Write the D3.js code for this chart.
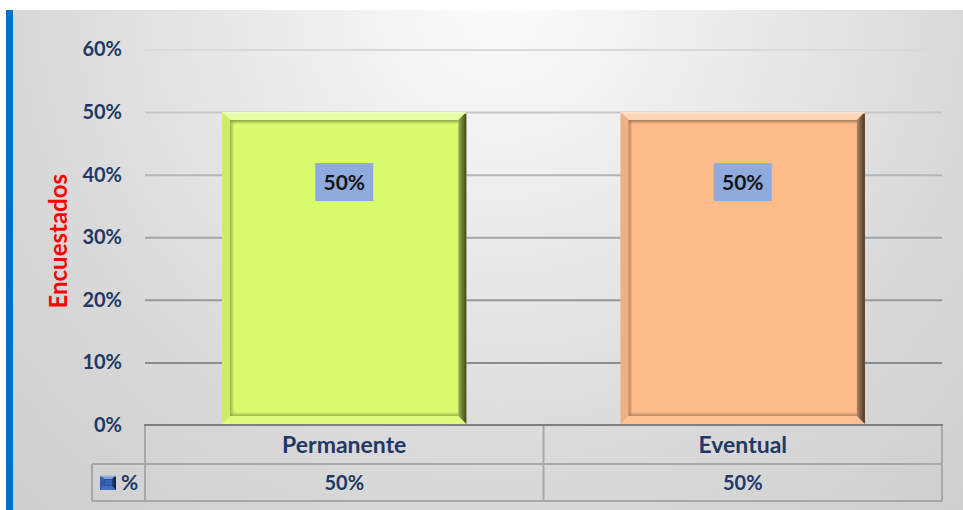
<!DOCTYPE html>
<html>
<head>
<meta charset="utf-8">
<script src="https://cdn.jsdelivr.net/npm/d3@7"></script>
<style>
  html, body { margin: 0; padding: 0; background: #ffffff; }
  svg { display: block; }
  text { font-family: Lato, "Open Sans", sans-serif; font-weight: 700; }
</style>
</head>
<body>
<svg id="chart" width="963" height="510"></svg>
<script>
// ---- data ----
const categories = ["Permanente", "Eventual"];
const values = [0.5, 0.5];
const barColors = ["#d8fc6e", "#fdbc8a"];
const seriesName = "%";
const tickValues = [0, 0.1, 0.2, 0.3, 0.4, 0.5, 0.6];
const axisTitle = "Encuestados";

// ---- layout ----
const W = 963, H = 510;
const plot = { left: 145, right: 942, top: 49.5, bottom: 425 };
const table = { legendLeft: 92, row1: 425, row2: 464, bottom: 501 };
const navy = "#1f3864";

const svg = d3.select("#chart");
const defs = svg.append("defs");

// soft radial background
const bg = defs.append("radialGradient").attr("id", "bg")
  .attr("gradientUnits", "userSpaceOnUse")
  .attr("cx", 500).attr("cy", 0).attr("r", 720);
bg.append("stop").attr("offset", 0).attr("stop-color", "#fcfcfc");
bg.append("stop").attr("offset", 0.66).attr("stop-color", "#d9d9d9");
bg.append("stop").attr("offset", 1).attr("stop-color", "#cdcdcd");

svg.append("rect").attr("x", 13).attr("y", 10).attr("width", W - 13).attr("height", H - 10)
  .attr("fill", "url(#bg)");
svg.append("rect").attr("x", 6).attr("y", 10).attr("width", 7).attr("height", H - 10)
  .attr("fill", "#0070c0");

// ---- scales ----
const y = d3.scaleLinear().domain([0, 0.6]).range([plot.bottom, plot.top]);
const x = d3.scaleBand().domain(categories).range([plot.left, plot.right]).padding(0);
const barFrac = 0.613;
// gridlines get darker towards the base of the plot
const gridColor = d3.scaleLinear().domain([0.1, 0.3, 0.6]).range(["#8c8c8c", "#a4a4a4", "#dadada"]);

// ---- y axis with gridlines ----
const yAxis = d3.axisLeft(y)
  .tickValues(tickValues)
  .tickFormat(d3.format(".0%"))
  .tickSize(-(plot.right - plot.left))
  .tickPadding(23);

const gy = svg.append("g").attr("transform", `translate(${plot.left},0)`).call(yAxis);
gy.select(".domain").remove();
gy.selectAll(".tick line")
  .attr("stroke", d => gridColor(d))
  .attr("stroke-width", 2)
  .filter(d => d === 0).remove();
gy.selectAll(".tick text")
  .attr("fill", navy)
  .attr("font-size", 20)
  .attr("font-family", "Lato, sans-serif")
  .attr("font-weight", 700);

// axis title
svg.append("text")
  .attr("transform", `translate(67,${(plot.top + plot.bottom) / 2 + 4}) rotate(-90)`)
  .attr("text-anchor", "middle")
  .attr("fill", "#ff0000")
  .attr("font-size", 24)
  .text(axisTitle);

// ---- bevelled bars ----
function bevelBox(g, x0, y0, x1, y1, color, b, s) {
  const c = d3.color(color);
  const mix = d3.interpolateRgb(color, "#ffffff");
  const dark = d3.interpolateRgb(color, "#000000");
  g.append("rect").attr("x", x0).attr("y", y0).attr("width", x1 - x0).attr("height", y1 - y0)
    .attr("fill", c.formatHex());
  const faces = [
    { pts: [[x0, y0], [x1, y0], [x1 - b, y0 + b], [x0 + b, y0 + b]], fill: mix(0.4) },
    { pts: [[x0, y0], [x0 + b, y0 + b], [x0 + b, y1 - b], [x0, y1]], fill: dark(0.06) },
    { pts: [[x0, y1], [x0 + b, y1 - b], [x1 - b, y1 - b], [x1, y1]], fill: mix(0.08) },
  ];
  faces.forEach(f => g.append("polygon")
    .attr("points", f.pts.map(p => p.join(",")).join(" "))
    .attr("fill", f.fill));
  // right face shaded to near black at the outer edge
  const gid = "rf" + Math.round(x0) + "_" + Math.round(y0);
  const rg = defs.append("linearGradient").attr("id", gid)
    .attr("gradientUnits", "userSpaceOnUse")
    .attr("x1", x1 - b).attr("y1", 0).attr("x2", x1).attr("y2", 0);
  rg.append("stop").attr("offset", 0).attr("stop-color", dark(0.3));
  rg.append("stop").attr("offset", 1).attr("stop-color", dark(0.72));
  g.append("polygon")
    .attr("points", [[x1, y0], [x1, y1], [x1 - b, y1 - b], [x1 - b, y0 + b]].map(p => p.join(",")).join(" "))
    .attr("fill", `url(#${gid})`);
  // inner shadow edges, soft
  const sh = dark(0.4);
  const edge = (ex, ey, ew, eh, dir, op) => {
    const id = gid + dir;
    const lg = defs.append("linearGradient").attr("id", id)
      .attr("x1", dir === "l" ? 0 : 0).attr("y1", dir === "t" ? 0 : dir === "b" ? 1 : 0)
      .attr("x2", dir === "l" ? 1 : 0).attr("y2", dir === "t" ? 1 : 0);
    lg.append("stop").attr("offset", 0).attr("stop-color", sh).attr("stop-opacity", op);
    lg.append("stop").attr("offset", 1).attr("stop-color", sh).attr("stop-opacity", 0);
    g.append("rect").attr("x", ex).attr("y", ey).attr("width", ew).attr("height", eh)
      .attr("fill", `url(#${id})`);
  };
  edge(x0 + b, y0 + b, x1 - x0 - 2 * b, s, "t", 0.9);
  edge(x0 + b, y0 + b, s, y1 - y0 - 2 * b, "l", 0.75);
  // bottom: darkest at the inner edge, fading up into the face
  edge(x0 + b, y1 - b - s, x1 - x0 - 2 * b, s, "b", 0.7);
  // light rim along the top
  g.append("rect").attr("x", x0).attr("y", y0).attr("width", x1 - x0).attr("height", 1.5)
    .attr("fill", mix(0.6));
}

const bars = svg.append("g");
categories.forEach((cat, i) => {
  const bw = x.bandwidth() * barFrac;
  const x0 = x(cat) + (x.bandwidth() - bw) / 2;
  const x1 = x0 + bw;
  const y0 = y(values[i]);
  const y1 = y(0) - 1;
  bevelBox(bars.append("g"), x0, y0, x1, y1, barColors[i], 8, 4);

  // value label
  const cx = (x0 + x1) / 2;
  const ly = y0 + 70;
  bars.append("rect").attr("x", cx - 29).attr("y", ly - 19).attr("width", 58).attr("height", 38)
    .attr("fill", "#8faadc");
  bars.append("text").attr("x", cx).attr("y", ly).attr("dy", "0.36em")
    .attr("text-anchor", "middle").attr("fill", "#141414").attr("font-size", 21)
    .text(d3.format(".0%")(values[i]));
});

// ---- data table ----
const tg = svg.append("g");
const lineCol = "#a8a8a8";
function hline(x0, x1, yy, col, w) {
  tg.append("line").attr("x1", x0).attr("x2", x1).attr("y1", yy).attr("y2", yy)
    .attr("stroke", col).attr("stroke-width", w);
}
function vline(xx, y0, y1) {
  tg.append("line").attr("x1", xx).attr("x2", xx).attr("y1", y0).attr("y2", y1)
    .attr("stroke", lineCol).attr("stroke-width", 2);
}
hline(table.legendLeft, plot.right, table.row2, lineCol, 2);
hline(table.legendLeft, plot.right, table.bottom, lineCol, 2);
vline(table.legendLeft, table.row2, table.bottom);
vline(plot.left, table.row1, table.bottom);
categories.forEach(cat => vline(x(cat) + x.bandwidth(), table.row1, table.bottom));
hline(plot.left - 1, plot.right + 1, table.row1, "#7f7f7f", 2);

categories.forEach((cat, i) => {
  const cx = x(cat) + x.bandwidth() / 2;
  tg.append("text").attr("x", cx).attr("y", (table.row1 + table.row2) / 2).attr("dy", "0.36em")
    .attr("text-anchor", "middle").attr("fill", navy).attr("font-size", 23).text(cat);
  tg.append("text").attr("x", cx).attr("y", (table.row2 + table.bottom) / 2).attr("dy", "0.36em")
    .attr("text-anchor", "middle").attr("fill", navy).attr("font-size", 20)
    .text(d3.format(".0%")(values[i]));
});

// legend key + series name
bevelBox(tg.append("g"), 100, 475, 116, 490, "#3563b4", 4, 1);
tg.append("text").attr("x", 121).attr("y", (table.row2 + table.bottom) / 2).attr("dy", "0.36em")
  .attr("fill", navy).attr("font-size", 21).text(seriesName);
</script>
</body>
</html>
